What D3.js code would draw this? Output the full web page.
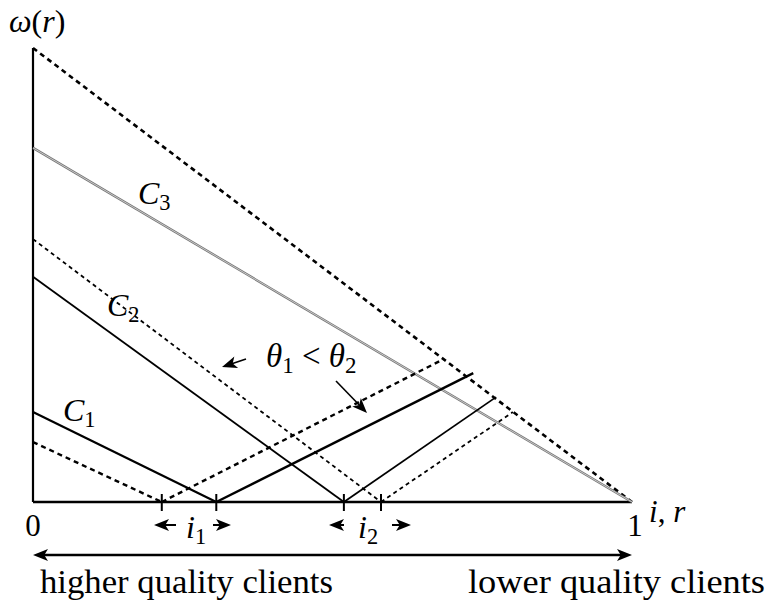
<!DOCTYPE html>
<html>
<head>
<meta charset="utf-8">
<script src="https://cdn.jsdelivr.net/npm/d3@7"></script>
<style>
  body { margin: 0; background: #fff; }
</style>
</head>
<body>
<svg width="773" height="605"></svg>
<script>
// values in unit coordinates: i,r along x (0..1), omega along y (0..1)
const envelope   = [[0, 1], [1, 0]];
const c3Line     = [[0, 0.78], [1, 0]];
const c2Dashed   = [[0, 0.579], [0.581, 0]];
const c2Solid    = [[0, 0.496], [0.519, 0]];
const c1Solid    = [[0, 0.198], [0.306, 0]];
const c1Dashed   = [[0, 0.132], [0.215, 0]];
const rise1Dash  = [[0.215, 0], [0.683, 0.313]];
const rise1Solid = [[0.306, 0], [0.735, 0.284]];
const rise2Solid = [[0.519, 0], [0.773, 0.231]];
const rise2Dash  = [[0.581, 0], [0.801, 0.198]];
const tickPoints = [0.215, 0.306, 0.519, 0.581];
const xTickLabels = [{ v: 0, t: "0" }, { v: 1, t: "1" }];

const FONT = "Liberation Serif";
const svg = d3.select("svg");
const x = d3.scaleLinear().domain([0, 1]).range([33, 632]);
const y = d3.scaleLinear().domain([0, 1]).range([502, 48]);
const line = d3.line().x(d => x(d[0])).y(d => y(d[1]));

function seg(data, width, dash, color) {
    svg.append("path")
    .attr("d", line(data))
    .attr("fill", "none")
    .attr("stroke", color || "#000")
    .attr("stroke-width", width)
    .attr("stroke-dasharray", dash || null);
}

// arrow head helper: triangle with tip at (tx,ty), pointing along angle
function head(tx, ty, ang, len, wid) {
    const c = Math.cos(ang), s = Math.sin(ang);
    const bx = tx - len * c, by = ty - len * s;
    const p = [[tx, ty], [bx - wid / 2 * s, by + wid / 2 * c], [tx - len * 0.75 * c, ty - len * 0.75 * s], [bx + wid / 2 * s, by - wid / 2 * c]];
    svg.append("path")
    .attr("d", "M" + p.map(q => q.join(",")).join("L") + "Z")
    .attr("fill", "#000");
}

function arrow(x1, y1, x2, y2, w) {
    const ang = Math.atan2(y2 - y1, x2 - x1);
    svg.append("line")
    .attr("x1", x1).attr("y1", y1)
    .attr("x2", x2 - 8 * Math.cos(ang)).attr("y2", y2 - 8 * Math.sin(ang))
    .attr("stroke", "#000").attr("stroke-width", w || 2);
    head(x2, y2, ang, 15, 12);
}

function txt(px, py, size) {
    return svg.append("text")
    .attr("x", px).attr("y", py)
    .attr("font-family", FONT)
    .attr("font-size", size);
}

// axes
seg([[0, 0], [0, 1]], 2.2);
seg([[0, 0], [1, 0]], 2.6);

// curves
seg(envelope, 2.6, "5,4");
seg(c3Line, 2.4, null, "#777");
seg(c3Line, 0.8, null, "#ddd");
seg(c2Dashed, 1.8, "4,3.5");
seg(c2Solid, 1.8);
seg(c1Solid, 2.2);
seg(c1Dashed, 2.4, "5,4");
seg(rise1Dash, 2.4, "5,4");
seg(rise1Solid, 2.4);
seg(rise2Solid, 1.8);
seg(rise2Dash, 1.8, "4,3.5");

// small ticks on the r axis
svg.selectAll("line.tick")
.data(tickPoints)
.enter()
.append("line")
.attr("class", "tick")
.attr("x1", d => x(d)).attr("x2", d => x(d))
.attr("y1", 494).attr("y2", 511)
.attr("stroke", "#000").attr("stroke-width", 2);

svg.selectAll("text.xlab")
.data(xTickLabels)
.enter()
.append("text")
.attr("class", "xlab")
.attr("x", d => x(d.v) + (d.v === 1 ? 3 : 0))
.attr("y", 536)
.attr("text-anchor", "middle")
.attr("font-family", FONT)
.attr("font-size", 31)
.text(d => d.t);

// interval arrows
arrow(176, 525, 154, 525);
arrow(213, 525, 231, 525);
arrow(344, 525, 329, 525);
arrow(392, 525, 411, 525);

function mathLabel(px, py, main, sub, size) {
    const s = size || 32;
    const t = txt(px, py, s);
    t.append("tspan").attr("font-style", "italic").text(main);
    if (sub) {
        t.append("tspan").attr("dy", 6).attr("font-size", s * 0.7).text(sub);
    }
    return t;
}

mathLabel(186, 538, "i", "1");
mathLabel(358, 538, "i", "2");

// axis names
const yName = txt(9, 32, 32);
yName.append("tspan").attr("font-style", "italic").text("ω");
yName.append("tspan").text("(");
yName.append("tspan").attr("font-style", "italic").text("r");
yName.append("tspan").text(")");

const xName = txt(649, 522, 31);
xName.append("tspan").attr("font-style", "italic").text("i");
xName.append("tspan").text(", ");
xName.append("tspan").attr("font-style", "italic").text("r");

// curve labels
mathLabel(138, 204, "C", "3");
mathLabel(107, 316, "C", "2");
mathLabel(63, 421, "C", "1");

// theta annotation
const th = txt(266, 367, 33);
th.append("tspan").attr("font-style", "italic").text("θ");
th.append("tspan").attr("dy", 6).attr("font-size", 23).text("1");
th.append("tspan").attr("dy", -6).text(" < ");
th.append("tspan").attr("font-style", "italic").text("θ");
th.append("tspan").attr("dy", 6).attr("font-size", 23).text("2");

arrow(246, 359, 222, 367, 1.6);
arrow(336, 381, 367, 413, 1.6);

// quality direction
arrow(330, 555, 632, 555, 2.4);
arrow(330, 555, 33, 555, 2.4);

txt(40, 593, 34)
.attr("textLength", 293)
.attr("lengthAdjust", "spacingAndGlyphs")
.text("higher quality clients");

txt(468, 593, 34)
.attr("textLength", 297)
.attr("lengthAdjust", "spacingAndGlyphs")
.text("lower quality clients");
</script>
</body>
</html>
